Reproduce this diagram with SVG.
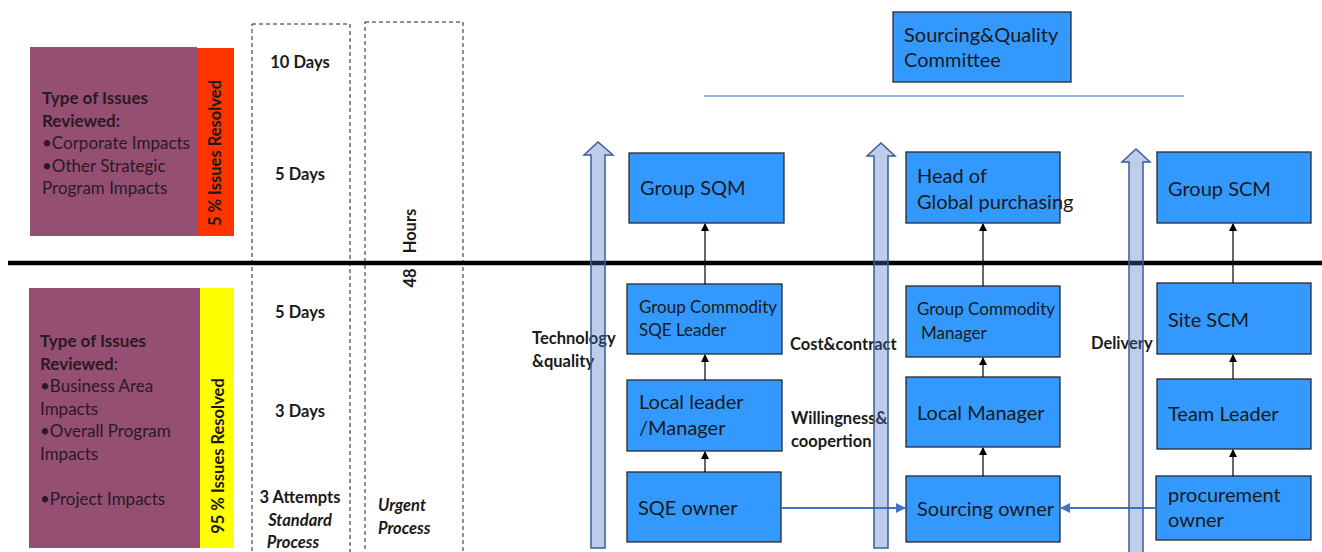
<svg xmlns="http://www.w3.org/2000/svg" width="1322" height="552" viewBox="0 0 1322 552">
<defs>
<style>
text{font-family:Lato,"Liberation Sans",sans-serif;fill:#1a1a1a}
.node rect{fill:#3399FF;stroke:#2a2a2a;stroke-width:1.3}
.nt{font-size:20px}
.ns{font-size:17px}
.pt{font-size:17px;fill:#2a1a22}
.b{font-weight:bold}
.lab{font-size:16.5px;font-weight:bold}
.dash{fill:none;stroke:#222;stroke-width:1;stroke-dasharray:4 3}
.blk{stroke:#000;stroke-width:1.2;fill:none;marker-end:url(#ah)}
.blu{stroke:#4472C4;stroke-width:2;fill:none;marker-end:url(#bh)}
.barrow{fill:#4472C4;fill-opacity:0.35;stroke:#3A5C9A;stroke-width:1.5}
</style>
<marker id="ah" markerWidth="8" markerHeight="8" refX="7" refY="4" orient="auto" markerUnits="userSpaceOnUse"><path d="M0,0 L8,4 L0,8 z" fill="#000"/></marker>
<marker id="bh" markerWidth="10" markerHeight="10" refX="9" refY="5" orient="auto" markerUnits="userSpaceOnUse"><path d="M0,0 L10,5 L0,10 z" fill="#4472C4"/></marker>
</defs>
<rect width="1322" height="552" fill="#fff"/>

<g id="level-top">
<rect x="30" y="47" width="167" height="189" fill="#954F72"/>
<rect x="197" y="48" width="37" height="188" fill="#FF3300"/>
<text class="pt" x="42" y="104"><tspan class="b">Type of Issues</tspan><tspan x="42" dy="22.5" class="b">Reviewed:</tspan><tspan x="42" dy="22.5">•Corporate Impacts</tspan><tspan x="42" dy="22.5">•Other Strategic</tspan><tspan x="42" dy="22.5">Program Impacts</tspan></text>
<text class="lab" transform="translate(221,153) rotate(-90)" text-anchor="middle">5 % Issues Resolved</text>
</g>

<g id="level-bottom">
<rect x="29" y="288" width="171" height="260" fill="#954F72"/>
<rect x="200" y="288" width="34" height="260" fill="#FFFF00"/>
<text class="pt" x="40" y="347"><tspan class="b">Type of Issues</tspan><tspan x="40" dy="22.5" class="b">Reviewed</tspan><tspan>:</tspan><tspan x="40" dy="22.5">•Business Area</tspan><tspan x="40" dy="22.5">Impacts</tspan><tspan x="40" dy="22.5">•Overall Program</tspan><tspan x="40" dy="22.5">Impacts</tspan><tspan x="40" dy="45">•Project Impacts</tspan></text>
<text class="lab" transform="translate(224,456) rotate(-90)" text-anchor="middle">95 % Issues Resolved</text>
</g>

<g id="standard-process">
<rect class="dash" x="252" y="24" width="98" height="540"/>
<text class="lab" x="300" y="68" text-anchor="middle">10 Days</text>
<text class="lab" x="300" y="180" text-anchor="middle">5 Days</text>
<text class="lab" x="300" y="318" text-anchor="middle">5 Days</text>
<text class="lab" x="300" y="417" text-anchor="middle">3 Days</text>
<text class="lab" x="300" y="503" text-anchor="middle">3 Attempts</text>
<text class="lab" x="300" y="526" text-anchor="middle" font-style="italic">Standard</text>
<text class="lab" x="293" y="548" text-anchor="middle" font-style="italic">Process</text>
</g>

<g id="urgent-process">
<rect class="dash" x="365" y="22" width="98" height="540"/>
<text class="lab" transform="translate(416,278) rotate(-90)" text-anchor="middle">48</text>
<text class="lab" transform="translate(416,231) rotate(-90)" text-anchor="middle">Hours</text>
<text class="lab" x="378" y="511" font-style="italic">Urgent</text>
<text class="lab" x="378" y="534" font-style="italic">Process</text>
</g>

<line x1="8" y1="263" x2="1322" y2="263" stroke="#000" stroke-width="4.5"/>

<g id="committee" class="node">
<rect x="893" y="12" width="178" height="70"/>
<text class="nt" x="904" y="42">Sourcing&amp;Quality</text>
<text class="nt" x="904" y="67">Committee</text>
</g>
<line x1="704" y1="96" x2="1184" y2="96" stroke="#9DB5E0" stroke-width="2"/>

<g id="group-sqm" class="node"><rect x="629" y="153" width="155" height="70"/><text class="nt" x="640" y="195">Group SQM</text></g>
<g id="gc-sqe-leader" class="node"><rect x="627" y="284" width="155" height="70"/><text class="ns" x="639" y="313">Group Commodity</text><text class="ns" x="639" y="336">SQE Leader</text></g>
<g id="local-leader" class="node"><rect x="627" y="380" width="155" height="71"/><text class="nt" x="639" y="409">Local leader</text><text class="nt" x="639" y="435">/Manager</text></g>
<g id="sqe-owner" class="node"><rect x="627" y="472" width="154" height="70"/><text class="nt" x="638" y="515">SQE owner</text></g>

<g id="head-global" class="node"><rect x="906" y="152" width="154" height="71"/><text class="nt" x="917" y="183">Head of</text><text class="nt" x="917" y="209">Global purchasing</text></g>
<g id="gc-manager" class="node"><rect x="906" y="286" width="154" height="71"/><text class="ns" x="917" y="315">Group Commodity</text><text class="ns" x="921" y="339">Manager</text></g>
<g id="local-manager" class="node"><rect x="906" y="377" width="154" height="70"/><text class="nt" x="917" y="420">Local Manager</text></g>
<g id="sourcing-owner" class="node"><rect x="906" y="476" width="154" height="66"/><text class="nt" x="917" y="516">Sourcing owner</text></g>

<g id="group-scm" class="node"><rect x="1157" y="152" width="154" height="71"/><text class="nt" x="1168" y="196">Group SCM</text></g>
<g id="site-scm" class="node"><rect x="1157" y="283" width="154" height="71"/><text class="nt" x="1168" y="327">Site SCM</text></g>
<g id="team-leader" class="node"><rect x="1157" y="379" width="154" height="70"/><text class="nt" x="1168" y="421">Team Leader</text></g>
<g id="procurement-owner" class="node"><rect x="1156" y="476" width="155" height="64"/><text class="nt" x="1168" y="502">procurement</text><text class="nt" x="1168" y="527">owner</text></g>

<g id="labels">
<text class="lab" x="532" y="344">Technology</text>
<text class="lab" x="532" y="367">&amp;quality</text>
<text class="lab" x="790" y="350">Cost&amp;contract</text>
<text class="lab" x="791" y="424">Willingness&amp;</text>
<text class="lab" x="791" y="447">coopertion</text>
<text class="lab" x="1091" y="349">Delivery</text>
</g>

<g id="connectors">
<line class="blk" x1="705" y1="284" x2="705" y2="224"/>
<line class="blk" x1="705" y1="380" x2="705" y2="355"/>
<line class="blk" x1="705" y1="472" x2="705" y2="452"/>
<line class="blk" x1="983" y1="286" x2="983" y2="224"/>
<line class="blk" x1="983" y1="377" x2="983" y2="358"/>
<line class="blk" x1="983" y1="476" x2="983" y2="448"/>
<line class="blk" x1="1233" y1="283" x2="1233" y2="224"/>
<line class="blk" x1="1233" y1="379" x2="1233" y2="355"/>
<line class="blk" x1="1233" y1="476" x2="1233" y2="450"/>
<line class="blu" x1="781" y1="508" x2="905" y2="508"/>
<line class="blu" x1="1156" y1="508" x2="1061" y2="508"/>
<path class="barrow" d="M591,548 V155 H584 L598,142 L613,155 H605 V548 Z"/>
<path class="barrow" d="M874,548 V156 H867 L881,143 L895,156 H888 V548 Z"/>
<path class="barrow" d="M1129,556 V162 H1122 L1136,149 L1150,162 H1143 V556 Z"/>
</g>
</svg>
